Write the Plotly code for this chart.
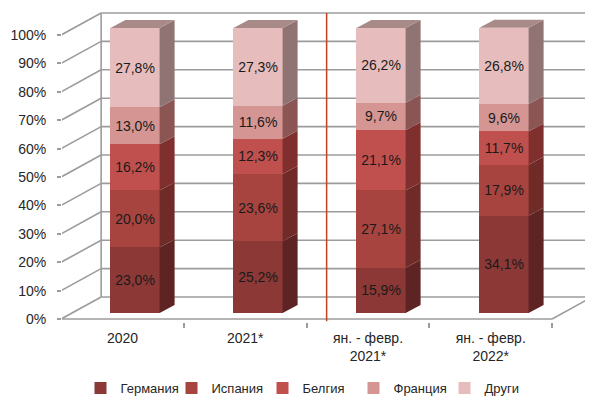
import plotly.graph_objects as go

# ---------------- data ----------------
categories = ["2020", "2021*", "ян. - февр.<br>2021*", "ян. - февр.<br>2022*"]
series_names = ["Германия", "Испания", "Белгия", "Франция", "Други"]
germany = [23.0, 25.2, 15.9, 34.1]
spain = [20.0, 23.6, 27.1, 17.9]
belgium = [16.2, 12.3, 21.1, 11.7]
france = [13.0, 11.6, 9.7, 9.6]
others = [27.8, 27.3, 26.2, 26.8]
y_ticks = [0, 10, 20, 30, 40, 50, 60, 70, 80, 90, 100]
y_ticktext = [f"{v}%" for v in y_ticks]

series_values = [germany, spain, belgium, france, others]

# ---------------- styles ----------------
front_colors = ["#8C3836", "#A8443F", "#C0504D", "#D49593", "#E6BDBC"]
side_colors = ["#5E2424", "#702B29", "#7F302E", "#8A5553", "#8F7473"]
top_color = "#A88A89"
grid_color = "#9C9C9C"
font_family = "Liberation Sans, Arial, sans-serif"
text_color = "#262626"

# layout geometry (pixels, relative to the figure; page body adds 8px offset)
OFF = 8
W, H = 593 - OFF, 401 - OFF
PL, PR, PT, PB = 62 - OFF, 593 - OFF, 10 - OFF, 322 - OFF
# bar plane mapping
BX0, BXS = 135.0 - OFF, 123.0
BY0, BYS = 313.0 - OFF, 2.85
# front plane mapping
FX0, FXS = 122.5 - OFF, 122.75
FY0, FYS = 319.0 - OFF, 2.84

bar_w = 0.4
bar_dx, bar_dy = 15 / BXS, 8 / BYS        # depth of bars in bar-plane units
wall_dx, wall_dy = 40 / FXS, 22 / FYS     # depth of walls in front-plane units

x_range = [(PL - BX0) / BXS, (PR - BX0) / BXS]
y_range = [(BY0 - PB) / BYS, (BY0 - PT) / BYS]
x2_range = [(PL - FX0) / FXS, (PR - FX0) / FXS]
y2_range = [(FY0 - PB) / FYS, (FY0 - PT) / FYS]

n = len(categories)
xs = list(range(n))

fig = go.Figure()

# front faces (stacked bars)
for name, vals, col in zip(series_names, series_values, front_colors):
    fig.add_trace(go.Bar(
        x=xs, y=vals, name=name, width=bar_w,
        marker=dict(color=col, line=dict(width=0)),
        text=[f"{v:.1f}".replace(".", ",") + "%" for v in vals],
        textposition="inside", insidetextanchor="middle", textangle=0,
        textfont=dict(family=font_family, size=14, color="#1a1a1a"),
        constraintext="none",
        hoverinfo="skip",
    ))

# side faces & top face (3D effect), computed from the data
bases = [0.0] * n
for s, (vals, col) in enumerate(zip(series_values, side_colors)):
    px, py = [], []
    for i in range(n):
        b = bases[i]
        t = b + vals[i]
        x0 = xs[i] + bar_w / 2
        px += [x0, x0 + bar_dx, x0 + bar_dx, x0, x0, None]
        py += [b, b + bar_dy, t + bar_dy, t, b, None]
        bases[i] = t
    fig.add_trace(go.Scatter(x=px, y=py, mode="lines", fill="toself",
                             fillcolor=col, line=dict(width=0, color=col),
                             showlegend=False, hoverinfo="skip"))
px, py = [], []
for i in range(n):
    T = bases[i]
    xl, xr = xs[i] - bar_w / 2, xs[i] + bar_w / 2
    px += [xl, xr, xr + bar_dx, xl + bar_dx, xl, None]
    py += [T, T, T + bar_dy, T + bar_dy, T, None]
fig.add_trace(go.Scatter(x=px, y=py, mode="lines", fill="toself",
                         fillcolor=top_color, line=dict(width=0, color=top_color),
                         showlegend=False, hoverinfo="skip"))

# walls / grid (front-plane axes x2/y2)
shapes = []
left_front = -0.5
right_front = n - 0.5
gl = dict(color=grid_color, width=1.6)
for v in y_ticks:
    shapes.append(dict(type="line", xref="x2", yref="y2", layer="below",
                       x0=left_front, y0=v, x1=left_front + wall_dx, y1=v + wall_dy, line=gl))
    shapes.append(dict(type="line", xref="x2", yref="y2", layer="below",
                       x0=left_front + wall_dx, y0=v + wall_dy,
                       x1=right_front + wall_dx, y1=v + wall_dy, line=gl))
shapes.append(dict(type="line", xref="x2", yref="y2", layer="below",
                   x0=left_front + wall_dx, y0=wall_dy, x1=left_front + wall_dx, y1=100 + wall_dy, line=gl))
shapes.append(dict(type="line", xref="x2", yref="y2", layer="below",
                   x0=left_front, y0=0, x1=left_front, y1=100, line=gl))
shapes.append(dict(type="line", xref="x2", yref="y2", layer="below",
                   x0=left_front, y0=0, x1=right_front, y1=0, line=gl))
shapes.append(dict(type="line", xref="x2", yref="y2", layer="below",
                   x0=right_front, y0=0, x1=right_front + wall_dx, y1=wall_dy, line=gl))
# red separator line between yearly and Jan-Feb data
sep_x = 1.5 + wall_dx / 2
shapes.append(dict(type="line", xref="x2", yref="y2", layer="above",
                   x0=sep_x, y0=y2_range[0] + 0.3, x1=sep_x, y1=100 + wall_dy,
                   line=dict(color="#C0451F", width=1.5)))

fig.update_layout(
    width=W, height=H,
    margin=dict(l=PL, r=W - PR, t=PT, b=H - PB, pad=0, autoexpand=False),
    paper_bgcolor="white", plot_bgcolor="white",
    barmode="stack",
    showlegend=True,
    legend=dict(orientation="h", x=(308 - OFF - PL) / (PR - PL), xanchor="center",
                y=(PB - (388 - OFF)) / (PB - PT), yanchor="middle",
                font=dict(family=font_family, size=13, color=text_color),
                traceorder="normal", itemwidth=30,
                entrywidthmode="pixels", entrywidth=46),
    font=dict(family=font_family, size=14, color=text_color),
    shapes=shapes,
    xaxis=dict(range=x_range, visible=False, fixedrange=True),
    yaxis=dict(range=y_range, visible=False, fixedrange=True),
    xaxis2=dict(overlaying="x", anchor="y2", side="bottom", range=x2_range,
                tickvals=xs, ticktext=categories, ticks="",
                showgrid=False, zeroline=False, showline=False,
                tickfont=dict(family=font_family, size=14, color=text_color),
                ticklabelstandoff=6,
                minor=dict(tickvals=[i - 0.5 for i in range(n + 1)], ticks="outside",
                           ticklen=5, tickcolor=grid_color, tickwidth=1.5)),
    yaxis2=dict(overlaying="y", anchor="x2", side="left", range=y2_range,
                tickvals=y_ticks, ticktext=y_ticktext, ticks="outside",
                ticklen=4, tickcolor=grid_color, tickwidth=1.5,
                showgrid=False, zeroline=False, showline=False,
                tickfont=dict(family=font_family, size=14, color=text_color),
                ticklabelstandoff=8),
)

fig.write_html("out.html")
